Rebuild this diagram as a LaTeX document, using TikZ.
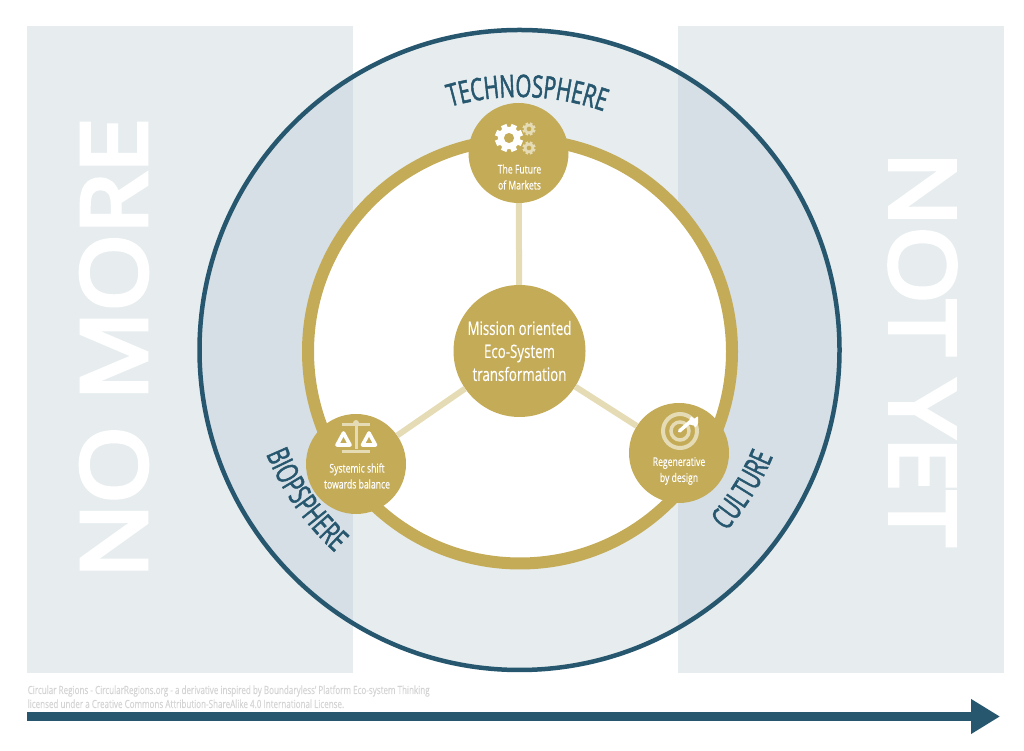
\documentclass[tikz,border=0pt]{standalone}
\usepackage{fontspec}
\usetikzlibrary{decorations.text,arrows.meta}
\newfontfamily\condf[FakeStretch=0.72,FakeBold=0.3]{Open Sans}
\newfontfamily\headf[FakeStretch=0.66,FakeBold=1.6]{Open Sans}
\newfontfamily\bigf[FakeBold=5,FakeStretch=1.1]{Open Sans}
\definecolor{panel}{HTML}{E7EDEF}
\definecolor{overlap}{HTML}{D6DFE5}
\definecolor{gold}{HTML}{C4AB57}
\definecolor{palegold}{HTML}{E5DCB6}
\definecolor{navy}{HTML}{26576F}
\definecolor{credit}{HTML}{D4D4D4}
\tikzset{
  x=1pt,y=1pt,
  hubnode/.style={circle,fill=gold,minimum size=132pt,inner sep=0pt,align=center,text=white,font=\condf\fontsize{18.5}{23}\selectfont},
  spokenode/.style={circle,fill=gold,minimum size=100pt,inner sep=0pt},
  nodelabel/.style={align=center,text=white,inner sep=0pt,font=\condf\fontsize{12}{16}\selectfont},
  bigword/.style={text=white,inner sep=0pt,font=\bigf\fontsize{90}{90}\selectfont},
  spoke/.style={draw=palegold,line width=6pt},
  creditline/.style={text=credit,anchor=base west,inner sep=0pt,font=\condf\fontsize{11.2}{14}\selectfont},
}
\newcommand{\gearicon}[5]{%
  \foreach \a in {0,45,...,315}{\draw[#4,line width=#3*0.42pt] (#1,#2) -- ++(\a+22.5:#3);}
  \fill[#4] (#1,#2) circle (#3*0.8);
  \fill[#5] (#1,#2) circle (#3*0.36);
}
\begin{document}
\begin{tikzpicture}
\useasboundingbox (0,0) rectangle (1024,751);
% panels
\fill[panel] (27,78) rectangle (353,725);
\fill[panel] (678,78) rectangle (1004,725);
% big words
\node[bigword,rotate=90] (nomore) at (114,403) {NO MORE};
\node[bigword,rotate=-90] (notyet) at (922.5,402) {NOT YET};
% big circle
\coordinate (C) at (519.5,401);
\fill[panel] (C) circle (320);
\begin{scope}
  \clip (C) circle (320);
  \fill[overlap] (27,78) rectangle (353,725);
  \fill[overlap] (678,78) rectangle (1004,725);
\end{scope}
\draw[navy,line width=4.5pt] (C) circle (320);
% inner ring
\coordinate (R) at (520,399.5);
\draw[gold,line width=12pt,fill=white] (R) circle (212);
% nodes
\node[hubnode] (hub) at (519.5,400) {Mission oriented\\Eco-System\\transformation};
\node[spokenode] (market) at (518.5,598) {};
\node[spokenode] (balance) at (356,287) {};
\node[spokenode] (design) at (679,298) {};
\draw[spoke] (hub) -- (market);
\draw[spoke] (hub) -- (balance);
\draw[spoke] (hub) -- (design);
% labels
\node[nodelabel] (marketlabel) at (519.5,574) {The Future\\of Markets};
\node[nodelabel] (balancelabel) at (357,275) {Systemic shift\\towards balance};
\node[nodelabel] (designlabel) at (679,280) {Regenerative\\by design};
% gears
\gearicon{509}{613}{14}{white}{gold}
\gearicon{529}{622}{6.5}{palegold}{gold}
\gearicon{529}{603}{6.5}{palegold}{gold}
% scales
\fill[palegold] (342,324.5) rectangle (370,327.5);
\fill[palegold] (354.5,302) rectangle (357.5,329);
\fill[palegold] (356,328) circle (3);
\fill[palegold] (342,298) rectangle (370,301);
\draw[white,line width=3.6pt,line join=round] (343.5,318) -- (337,306) -- (350,306) -- cycle;
\draw[white,line width=3.6pt,line join=round] (369,318) -- (362.5,306) -- (375.5,306) -- cycle;
% target
\draw[palegold,line width=4pt] (680,320) circle (17);
\draw[palegold,line width=3.5pt] (680,320) circle (9);
\draw[white,line width=3.5pt,line cap=round] (679.5,320) -- (691,330);
\fill[white,rounded corners=1pt] (688,327) -- (691,335) -- (694,332) -- (698,335) -- (698,331) -- (698,327) -- (695,323) -- (695,325) -- cycle;
% curved headings
\path[decorate,decoration={text along path,text align=center,text color=navy,
  text={|\headf\fontsize{31}{31}\selectfont|TECHNOSPHERE}}]
  (C) ++(120:253) arc (120:56.5:253);
\path[decorate,decoration={text along path,text align=center,text color=navy,
  text={|\headf\fontsize{31}{31}\selectfont|BIOPSPHERE}}]
  (C) ++(190:274) arc (190:240:274);
\path[decorate,decoration={text along path,text align=center,text color=navy,
  text={|\headf\fontsize{31}{31}\selectfont|CULTURE}}]
  (C) ++(-57:275) arc (-57:-7:275);
% credit
\node[creditline] (credit1) at (27.5,57) {Circular Regions - CircularRegions.org - a derivative inspired by Boundaryless’ Platform Eco-system Thinking};
\node[creditline] (credit2) at (27.5,43) {licensed under a Creative Commons Attribution-ShareAlike 4.0 International License.};
% arrow
\coordinate (arrowstart) at (27,34.5);
\coordinate (arrowend) at (1000,34.5);
\draw[navy,line width=9pt,-{Triangle[length=29pt,width=33pt]}] (arrowstart) -- (arrowend);
\end{tikzpicture}
\end{document}
